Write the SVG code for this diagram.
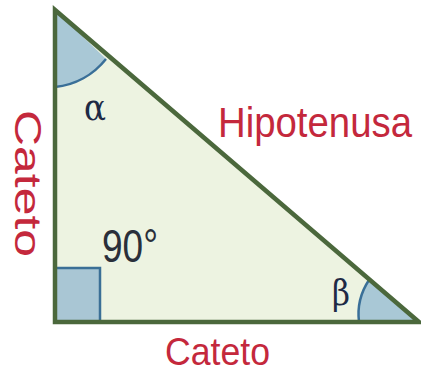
<svg xmlns="http://www.w3.org/2000/svg" width="421" height="373" viewBox="0 0 421 373">
<style>
.lbl{font-family:"Liberation Sans","Open Sans",sans-serif;fill:#c4283c}
.greek{font-family:"DejaVu Serif","Liberation Serif",serif;fill:#1e2a45}
.ang{fill:#a9c8d6;stroke:none}
.arc{fill:none;stroke:#3a6f98;stroke-width:2.5}
</style>
<rect width="421" height="373" fill="#ffffff"/>
<g id="triangle">
<polygon points="55,10 55,322 419,322" fill="#edf3e1"/>
<path class="ang" d="M55,10 L55,87 A75 75 0 0 0 106,59 Z"/>
<path class="arc" d="M55,87 A75 75 0 0 0 106,59"/>
<path class="ang" d="M419,322 L359,322 A62 62 0 0 1 369,280 Z"/>
<path class="arc" d="M359,322 A62 62 0 0 1 369,280"/>
<rect x="55" y="268" width="45" height="54" fill="#a9c6d4" stroke="#3b6f96" stroke-width="2.5"/>
<polygon points="55,10 55,322 419,322" fill="none" stroke="#4b683c" stroke-width="4.5" stroke-linejoin="miter"/>
</g>
<g id="labels">
<text class="greek" x="84" y="120" font-size="38" textLength="22" lengthAdjust="spacingAndGlyphs">α</text>
<text class="greek" x="332" y="305" font-size="36" textLength="18" lengthAdjust="spacingAndGlyphs">β</text>
<text x="102" y="262" font-family="Liberation Sans, sans-serif" font-size="46" fill="#2a2f3a" textLength="56" lengthAdjust="spacingAndGlyphs">90°</text>
<text class="lbl" transform="translate(218,137) scale(1,1.12)" x="0" y="0" font-size="38.5" textLength="194" lengthAdjust="spacingAndGlyphs">Hipotenusa</text>
<text class="lbl" x="165" y="365" font-size="38" textLength="105" lengthAdjust="spacingAndGlyphs">Cateto</text>
<text class="lbl" transform="translate(15,110) rotate(90)" x="0" y="0" font-size="36" textLength="147" lengthAdjust="spacingAndGlyphs">Cateto</text>
</g>
</svg>
